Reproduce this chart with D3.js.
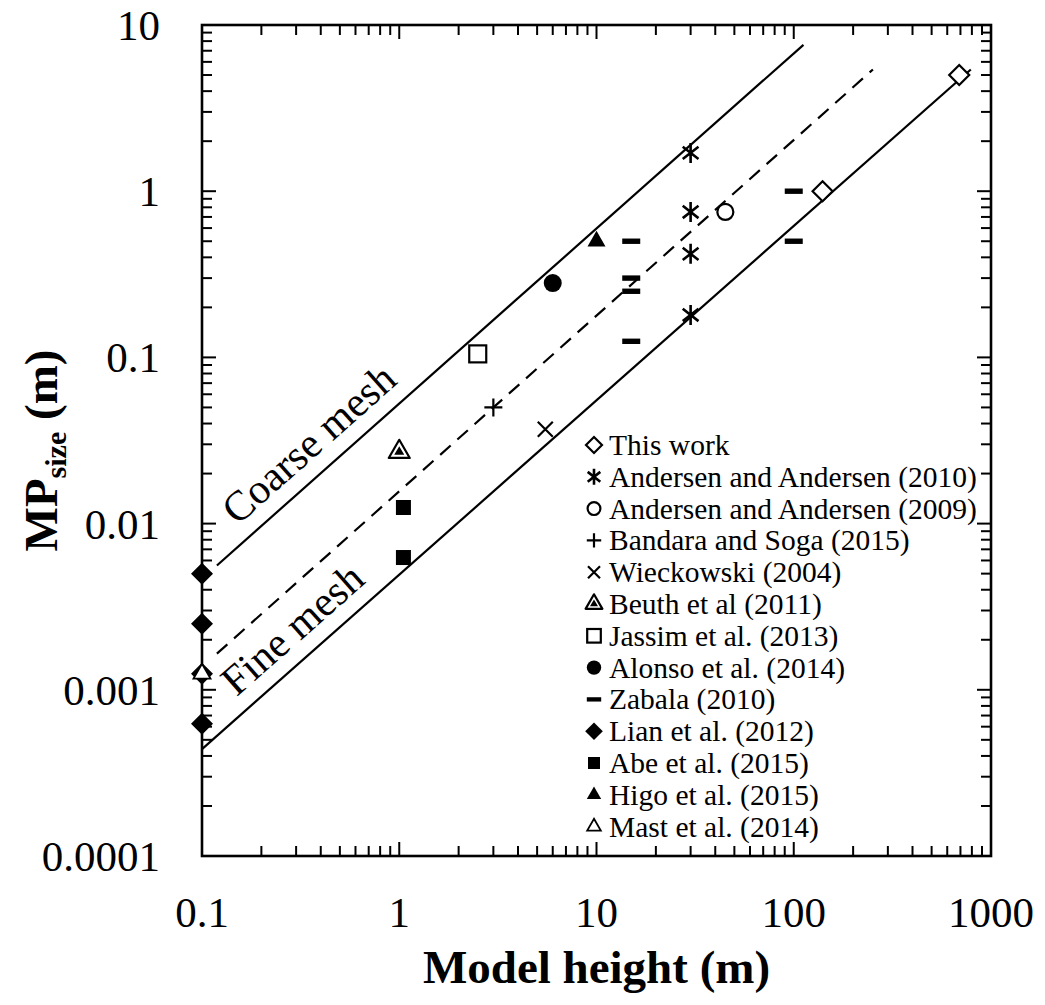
<!DOCTYPE html>
<html>
<head>
<meta charset="utf-8">
<script src="https://cdn.jsdelivr.net/npm/d3@7"></script>
</head>
<body style="margin:0">
<svg id="chart" width="1045" height="1005"></svg>
<script>
// ---- Axis ticks ----
const xTickValues = [0.1, 1, 10, 100, 1000];
const xTickLabels = ["0.1", "1", "10", "100", "1000"];
const yTickValues = [0.0001, 0.001, 0.01, 0.1, 1, 10];
const yTickLabels = ["0.0001", "0.001", "0.01", "0.1", "1", "10"];

// ---- Mesh guide lines (start and end, model height vs MP size) ----
const coarseMeshH = [0.119, 112];
const coarseMeshMP = [0.0056, 7.6];
const mediumMeshH = [0.119, 252];
const mediumMeshMP = [0.00165, 5.4];
const fineMeshH = [0.1, 790];
const fineMeshMP = [0.00044, 5.4];

// ---- Published MP sizes ----
const seriesLabels = [
  "This work",
  "Andersen and Andersen (2010)",
  "Andersen and Andersen (2009)",
  "Bandara and Soga (2015)",
  "Wieckowski (2004)",
  "Beuth et al (2011)",
  "Jassim et al. (2013)",
  "Alonso et al. (2014)",
  "Zabala (2010)",
  "Lian et al. (2012)",
  "Abe et al. (2015)",
  "Higo et al. (2015)",
  "Mast et al. (2014)"
];
const seriesMarkers = [
  "diamondOpen", "asterisk", "circleOpen", "plus", "cross", "triangleNested",
  "squareOpen", "circleFill", "dash", "diamondFill", "squareFill", "triangleFill", "triangleOpen"
];

const thisWorkH = [140, 690];
const thisWorkMP = [1, 5];
const andersen2010H = [30, 30, 30, 30];
const andersen2010MP = [1.7, 0.75, 0.42, 0.18];
const andersen2009H = [45];
const andersen2009MP = [0.75];
const bandaraH = [3];
const bandaraMP = [0.05];
const wieckowskiH = [5.5];
const wieckowskiMP = [0.037];
const beuthH = [1];
const beuthMP = [0.027];
const jassimH = [2.5];
const jassimMP = [0.105];
const alonsoH = [6];
const alonsoMP = [0.28];
const zabalaH = [15, 15, 15, 15, 100, 100];
const zabalaMP = [0.5, 0.3, 0.25, 0.125, 1, 0.5];
const lianH = [0.1, 0.1, 0.1, 0.1];
const lianMP = [0.005, 0.0025, 0.00125, 0.000625];
const abeH = [1.05, 1.05];
const abeMP = [0.0125, 0.00625];
const higoH = [10];
const higoMP = [0.5];
const mastH = [0.1];
const mastMP = [0.00125];

const seriesH = [thisWorkH, andersen2010H, andersen2009H, bandaraH, wieckowskiH, beuthH,
  jassimH, alonsoH, zabalaH, lianH, abeH, higoH, mastH];
const seriesMP = [thisWorkMP, andersen2010MP, andersen2009MP, bandaraMP, wieckowskiMP, beuthMP,
  jassimMP, alonsoMP, zabalaMP, lianMP, abeMP, higoMP, mastMP];

const series = seriesLabels.map((label, i) => ({
  label,
  marker: seriesMarkers[i],
  points: seriesH[i].map((h, j) => ({ h, mp: seriesMP[i][j] }))
}));

// ---- Layout ----
const svg = d3.select("#chart");
const plotLeft = 202, plotRight = 991, plotTop = 25, plotBottom = 856;
const serif = '"Liberation Serif", monospace';

const x = d3.scaleLog().domain([0.1, 1000]).range([plotLeft, plotRight]);
const y = d3.scaleLog().domain([0.0001, 10]).range([plotBottom, plotTop]);

// ---- Marker shapes ----
function drawMarker(g, type, s) {
  const sw = 2.2;
  const tri = (r) => {
    const h = r * Math.sqrt(3);
    return `M0,${-h * 2 / 3}L${r},${h / 3}L${-r},${h / 3}Z`;
  };
  switch (type) {
    case "diamondOpen":
      g.append("path").attr("d", `M0,${-10 * s}L${10 * s},0L0,${10 * s}L${-10 * s},0Z`)
        .attr("fill", "#fff").attr("stroke", "#000").attr("stroke-width", sw);
      break;
    case "diamondFill":
      g.append("path").attr("d", `M0,${-11 * s}L${11 * s},0L0,${11 * s}L${-11 * s},0Z`)
        .attr("fill", "#000");
      break;
    case "asterisk": {
      const r = 10 * s;
      const a = 52 * Math.PI / 180;
      const dx = r * Math.sin(a), dy = r * Math.cos(a);
      g.append("path")
        .attr("d", `M0,${-r}L0,${r}M${-dx},${-dy}L${dx},${dy}M${dx},${-dy}L${-dx},${dy}`)
        .attr("stroke", "#000").attr("stroke-width", 2.6).attr("fill", "none");
      break;
    }
    case "circleOpen":
      g.append("circle").attr("r", 8 * s)
        .attr("fill", "#fff").attr("stroke", "#000").attr("stroke-width", sw);
      break;
    case "circleFill":
      g.append("circle").attr("r", 9 * s).attr("fill", "#000");
      break;
    case "plus": {
      const r = 9 * s;
      g.append("path").attr("d", `M${-r},0L${r},0M0,${-r}L0,${r}`)
        .attr("stroke", "#000").attr("stroke-width", sw);
      break;
    }
    case "cross": {
      const r = 7.5 * s;
      g.append("path").attr("d", `M${-r},${-r}L${r},${r}M${r},${-r}L${-r},${r}`)
        .attr("stroke", "#000").attr("stroke-width", sw);
      break;
    }
    case "triangleNested":
      g.append("path").attr("d", tri(10.5 * s))
        .attr("fill", "#fff").attr("stroke", "#000").attr("stroke-width", sw)
        .attr("stroke-linejoin", "round");
      g.append("path").attr("d", tri(5 * s)).attr("fill", "#000");
      break;
    case "squareOpen":
      g.append("rect").attr("x", -8.5 * s).attr("y", -8.5 * s)
        .attr("width", 17 * s).attr("height", 17 * s)
        .attr("fill", "#fff").attr("stroke", "#000").attr("stroke-width", sw);
      break;
    case "squareFill":
      g.append("rect").attr("x", -7.5 * s).attr("y", -7.5 * s)
        .attr("width", 15 * s).attr("height", 15 * s).attr("fill", "#000");
      break;
    case "dash":
      g.append("rect").attr("x", -9 * s).attr("y", -2.7 * s)
        .attr("width", 18 * s).attr("height", 5.4 * s).attr("fill", "#000");
      break;
    case "triangleFill":
      g.append("path").attr("d", tri(9 * s)).attr("fill", "#000");
      break;
    case "triangleOpen":
      g.append("path").attr("d", tri(8.5 * s))
        .attr("fill", "#fff").attr("stroke", "#000").attr("stroke-width", 1.8);
      break;
  }
}

// ---- Mesh guide lines ----
const lineGen = d3.line().x(d => x(d[0])).y(d => y(d[1]));
const meshLines = [
  { h: coarseMeshH, mp: coarseMeshMP, dash: null },
  { h: mediumMeshH, mp: mediumMeshMP, dash: "14,9" },
  { h: fineMeshH, mp: fineMeshMP, dash: null }
];
svg.append("g").selectAll("path").data(meshLines).join("path")
  .attr("d", d => lineGen(d.h.map((h, i) => [h, d.mp[i]])))
  .attr("fill", "none").attr("stroke", "#000").attr("stroke-width", 2.2)
  .attr("stroke-dasharray", d => d.dash);

// Labels written along the solid lines
function lineLabel(hArr, mpArr, text, startX, offset) {
  const x0 = x(hArr[0]), y0 = y(mpArr[0]), x1 = x(hArr[1]), y1 = y(mpArr[1]);
  const ang = Math.atan2(y1 - y0, x1 - x0);
  const t = (startX - x0) / (x1 - x0);
  const px = x0 + t * (x1 - x0), py = y0 + t * (y1 - y0);
  const nx = Math.sin(ang), ny = -Math.cos(ang);
  svg.append("text")
    .attr("transform", `translate(${px + nx * offset},${py + ny * offset}) rotate(${ang * 180 / Math.PI})`)
    .attr("font-size", 42)
    .style("font-family", serif)
    .text(text);
}
lineLabel(coarseMeshH, coarseMeshMP, "Coarse mesh", 248, 16);
lineLabel(fineMeshH, fineMeshMP, "Fine mesh", 247, 16);

// ---- Frame and ticks ----
const axes = svg.append("g").attr("stroke", "#000");
const majorLen = 14, minorLen = 10;
const isMajor = v => Math.abs(Math.log10(v) - Math.round(Math.log10(v))) < 1e-9;

x.ticks().forEach(v => {
  const len = isMajor(v) ? majorLen : minorLen;
  axes.append("line").attr("x1", x(v)).attr("x2", x(v))
    .attr("y1", plotBottom).attr("y2", plotBottom - len).attr("stroke-width", 2);
  axes.append("line").attr("x1", x(v)).attr("x2", x(v))
    .attr("y1", plotTop).attr("y2", plotTop + len).attr("stroke-width", 2);
});
y.ticks().forEach(v => {
  const len = isMajor(v) ? majorLen : minorLen;
  axes.append("line").attr("y1", y(v)).attr("y2", y(v))
    .attr("x1", plotLeft).attr("x2", plotLeft + len).attr("stroke-width", 2);
  axes.append("line").attr("y1", y(v)).attr("y2", y(v))
    .attr("x1", plotRight).attr("x2", plotRight - len).attr("stroke-width", 2);
});
axes.append("rect").attr("x", plotLeft).attr("y", plotTop)
  .attr("width", plotRight - plotLeft).attr("height", plotBottom - plotTop)
  .attr("fill", "none").attr("stroke-width", 2.6);

// ---- Tick labels ----
svg.append("g").selectAll("text").data(xTickValues).join("text")
  .attr("x", d => x(d)).attr("y", 927)
  .attr("text-anchor", "middle")
  .attr("font-size", 43)
  .style("font-family", serif)
  .text((d, i) => xTickLabels[i]);

svg.append("g").selectAll("text").data(yTickValues).join("text")
  .attr("x", 160).attr("y", d => y(d) + 15)
  .attr("text-anchor", "end")
  .attr("font-size", 43)
  .style("font-family", serif)
  .text((d, i) => yTickLabels[i]);

// ---- Axis titles ----
svg.append("text")
  .attr("x", (plotLeft + plotRight) / 2).attr("y", 983)
  .attr("text-anchor", "middle")
  .attr("font-size", 47).attr("font-weight", "bold")
  .style("font-family", serif)
  .text("Model height (m)");

const yTitle = svg.append("text")
  .attr("transform", `translate(57,${(plotTop + plotBottom) / 2 + 10}) rotate(-90)`)
  .attr("text-anchor", "middle")
  .attr("font-size", 47).attr("font-weight", "bold")
  .style("font-family", serif);
yTitle.append("tspan").text("MP");
yTitle.append("tspan").attr("font-size", 30).attr("dy", 9).text("size");
yTitle.append("tspan").attr("dy", -9).text(" (m)");

// ---- Data markers ----
const plot = svg.append("g");
series.forEach(s => {
  s.points.forEach(p => {
    const g = plot.append("g").attr("transform", `translate(${x(p.h)},${y(p.mp)})`);
    drawMarker(g, s.marker, 1);
  });
});

// ---- Legend ----
const legend = svg.append("g");
const legendX = 594, legendY = 445, legendStep = 31.8;
series.forEach((s, i) => {
  const row = legend.append("g").attr("transform", `translate(${legendX},${legendY + i * legendStep})`);
  drawMarker(row.append("g"), s.marker, 0.8);
  row.append("text").attr("x", 15).attr("y", 10)
    .attr("font-size", 29.5)
    .style("font-family", serif)
    .text(s.label);
});
</script>
</body>
</html>
